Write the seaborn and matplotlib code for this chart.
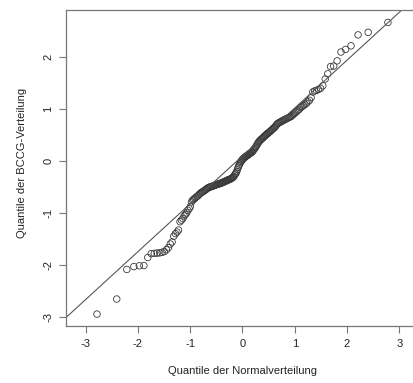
import statistics
import numpy as np
import pandas as pd
import matplotlib
matplotlib.use("Agg")
import matplotlib.pyplot as plt
import seaborn as sns

# Sorted sample of normalized quantile residuals (BCCG fit), n = 185
bccg_sample = [
    -2.95, -2.66, -2.09, -2.035, -2.02, -2.015, -1.86, -1.785, -1.78, -1.775,
    -1.77, -1.76, -1.745, -1.71, -1.67, -1.60, -1.56, -1.45, -1.40, -1.37,
    -1.33, -1.17, -1.14, -1.11, -1.06, -1.03, -1.00, -0.95, -0.92, -0.88,
    -0.79, -0.755, -0.74, -0.72, -0.70, -0.685, -0.67, -0.65, -0.63, -0.615,
    -0.60, -0.59, -0.58, -0.565, -0.555, -0.54, -0.525, -0.515, -0.51, -0.50,
    -0.495, -0.49, -0.485, -0.48, -0.47, -0.465, -0.46, -0.455, -0.45, -0.445,
    -0.44, -0.435, -0.43, -0.425, -0.42, -0.41, -0.405, -0.40, -0.39, -0.385,
    -0.38, -0.37, -0.365, -0.36, -0.355, -0.35, -0.34, -0.33, -0.32, -0.31,
    -0.295, -0.27, -0.25, -0.23, -0.20, -0.16, -0.12, -0.09, -0.06, -0.03,
    -0.01, 0.01, 0.03, 0.045, 0.055, 0.07, 0.08, 0.09, 0.10, 0.11,
    0.12, 0.13, 0.14, 0.15, 0.16, 0.17, 0.18, 0.20, 0.22, 0.24,
    0.26, 0.28, 0.305, 0.33, 0.355, 0.375, 0.39, 0.405, 0.42, 0.43,
    0.445, 0.46, 0.475, 0.49, 0.50, 0.515, 0.53, 0.54, 0.555, 0.565,
    0.58, 0.595, 0.61, 0.625, 0.64, 0.655, 0.675, 0.70, 0.72, 0.73,
    0.74, 0.75, 0.76, 0.77, 0.78, 0.79, 0.80, 0.81, 0.82, 0.83,
    0.84, 0.85, 0.86, 0.88, 0.90, 0.92, 0.94, 0.96, 0.98, 1.00,
    1.03, 1.05, 1.07, 1.09, 1.11, 1.14, 1.17, 1.22, 1.33, 1.35,
    1.36, 1.38, 1.40, 1.45, 1.58, 1.68, 1.82, 1.83, 1.93, 2.10,
    2.15, 2.22, 2.43, 2.48, 2.67,
]

x_ticks = [-3, -2, -1, 0, 1, 2, 3]
y_ticks = [-3, -2, -1, 0, 1, 2]
x_label = "Quantile der Normalverteilung"
y_label = "Quantile der BCCG-Verteilung"

# Theoretical normal quantiles at plotting positions (i - 0.5) / n
n = len(bccg_sample)
nd = statistics.NormalDist()
theo = [nd.inv_cdf((i + 0.5) / n) for i in range(n)]
df = pd.DataFrame({"theo": theo, "sample": bccg_sample})

# Reference line through the first and third quartiles
q1, q3 = np.quantile(bccg_sample, [0.25, 0.75])
z1, z3 = nd.inv_cdf(0.25), nd.inv_cdf(0.75)
slope = (q3 - q1) / (z3 - z1)
intercept = q1 - slope * z1

sns.set_theme(style="ticks")
plt.rcParams["font.family"] = ["Liberation Sans", "DejaVu Sans"]

fig = plt.figure(figsize=(4.13, 3.83), dpi=100)
ax = fig.add_axes([0.1591, 0.1488, 0.8559, 0.8251])

line_col = "#555555"
sns.scatterplot(data=df, x="theo", y="sample", ax=ax, marker="o",
                facecolor="none", edgecolor="#3a3a3a", linewidth=0.6, s=22,
                legend=False)
ax.axline((0, intercept), slope=slope, color=line_col, linewidth=0.8, zorder=1)

ax.set_xlim(-3.38, 3.38)
ax.set_ylim(-3.18, 2.91)
ax.set_xticks(x_ticks)
ax.set_yticks(y_ticks)
ax.set_xticklabels([str(v) for v in x_ticks])
ax.set_yticklabels([str(v) for v in y_ticks], rotation=90, va="center")

for sp in ax.spines.values():
    sp.set_color("#777777")
    sp.set_linewidth(0.9)
ax.tick_params(axis="both", length=5, width=0.8, color="#777777",
               labelsize=8, labelcolor="#222222", pad=4)

ax.set_xlabel(x_label, fontsize=8, color="#222222")
ax.set_ylabel(y_label, fontsize=8, color="#222222")
ax.xaxis.set_label_coords((242.4 - 65.7) / (419.2 - 65.7), -40 / 316)
ax.yaxis.set_label_coords(-39 / 353.5, (326 - 163) / 316)

fig.savefig("out.png", dpi=100)
